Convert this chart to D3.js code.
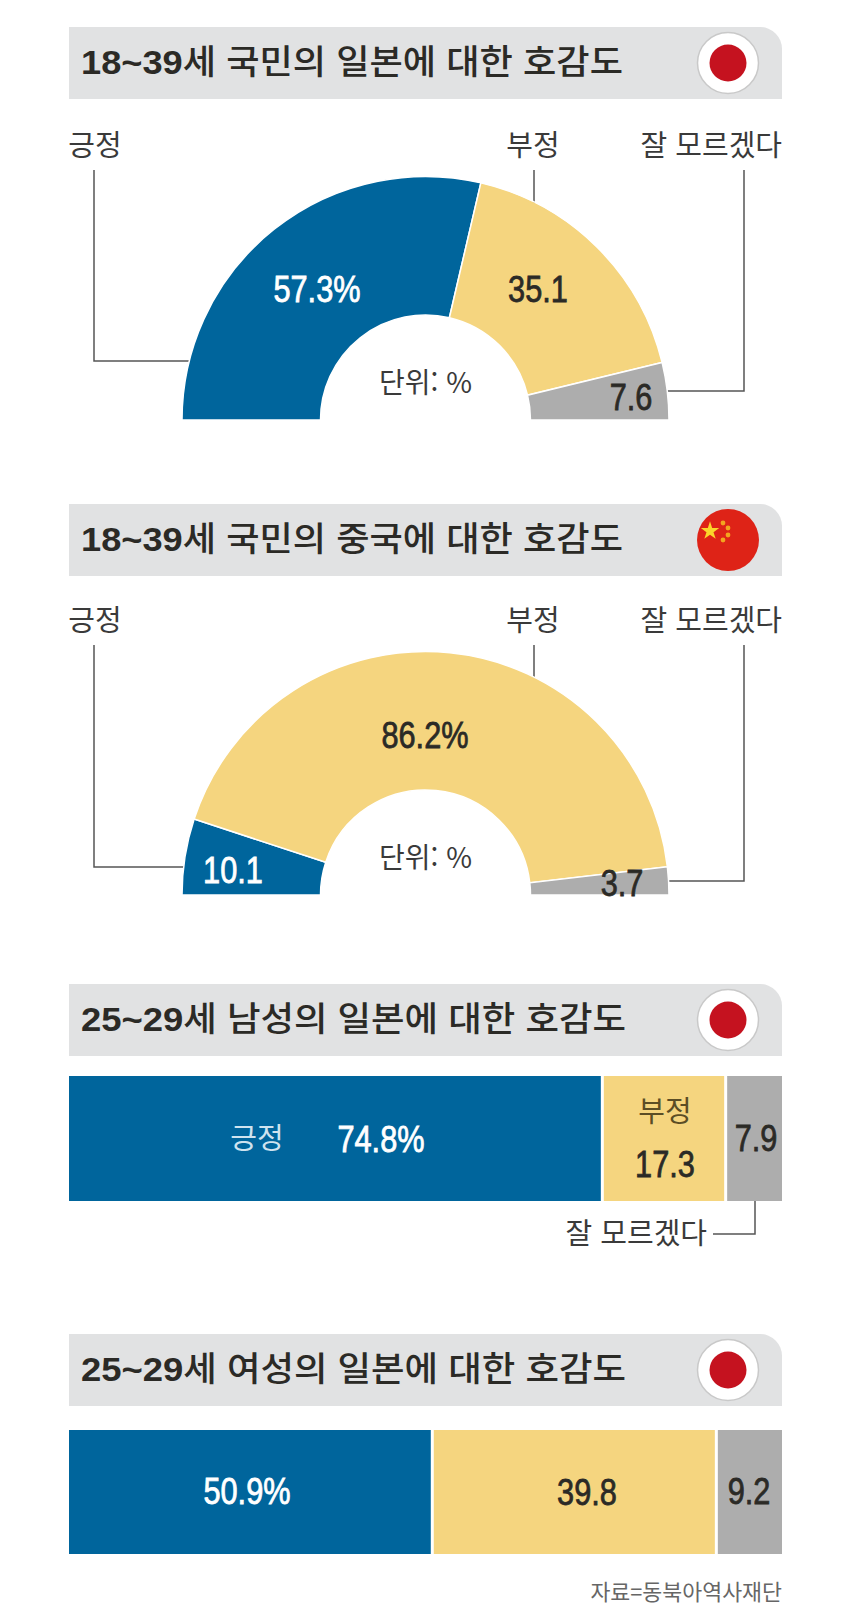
<!DOCTYPE html>
<html lang="ko">
<head>
<meta charset="utf-8">
<title>호감도</title>
<script src="https://cdn.jsdelivr.net/npm/d3@7"></script>
<style>
html, body { margin: 0; padding: 0; background: #fff; }
svg { display: block; }
text { font-family: "Noto Sans CJK KR", "Noto Sans", sans-serif; }
.num { font-family: "Liberation Sans", sans-serif; }
</style>
</head>
<body>
<script>
// data
var categories = ["긍정", "부정", "잘 모르겠다"];
var japanAll = [57.3, 35.1, 7.6];
var chinaAll = [10.1, 86.2, 3.7];
var japanMen = [74.8, 17.3, 7.9];
var japanWomen = [50.9, 39.8, 9.2];
var titleAges = ["18~39", "18~39", "25~29", "25~29"];
var titleRests = [
	"세 국민의 일본에 대한 호감도",
	"세 국민의 중국에 대한 호감도",
	"세 남성의 일본에 대한 호감도",
	"세 여성의 일본에 대한 호감도"
];
var japanLabels = ["57.3%", "35.1", "7.6"];
var chinaLabels = ["10.1", "86.2%", "3.7"];
var menLabels = ["74.8%", "17.3", "7.9"];
var womenLabels = ["50.9%", "39.8", "9.2"];
var unitLabel = "단위: %";
var sourceLabel = "자료=동북아역사재단";

var w = 850, h = 1614;
var colors = d3.scaleOrdinal().domain(categories).range(["#00659c", "#f5d57f", "#adadad"]);
var inkColors = ["#fff", "#2b2a26", "#2b2a26"];
var lineColor = "#555";
var left = 69, right = 782;

var svg = d3.select("body").append("svg").attr("width", w).attr("height", h);

function put(x, y, str, size, opts) {
	opts = opts || {};
	return svg.append("text")
		.attr("x", x).attr("y", y)
		.attr("dy", "0.36em")
		.attr("text-anchor", opts.anchor || "middle")
		.attr("font-size", size)
		.attr("font-weight", opts.weight || 400)
		.attr("fill", opts.fill || "#3a3a3a")
		.text(str);
}

// the numbers are a condensed face in the original, squeeze Liberation to fit
function putNum(x, y, str, fill) {
	var t = put(x, y, str, 37, {fill: fill}).attr("class", "num")
		.attr("stroke", fill).attr("stroke-width", 0.8);
	t.attr("textLength", t.node().getComputedTextLength() * 0.83)
		.attr("lengthAdjust", "spacingAndGlyphs");
	return t;
}

function flagJapan(cx, cy) {
	svg.append("circle").attr("cx", cx).attr("cy", cy).attr("r", 30.5)
		.attr("fill", "#fff").attr("stroke", "#c9c9c9").attr("stroke-width", 1.5);
	svg.append("circle").attr("cx", cx).attr("cy", cy).attr("r", 18.5).attr("fill", "#c5121f");
}

function flagChina(cx, cy) {
	svg.append("circle").attr("cx", cx).attr("cy", cy).attr("r", 31).attr("fill", "#de2317");
	var star = d3.symbol().type(d3.symbolStar).size(105);
	svg.append("path").attr("d", star()).attr("fill", "#fbd52b")
		.attr("transform", "translate(" + (cx - 18) + "," + (cy - 9) + ")");
	[[-5, -17], [0, -12], [0, -5], [-5, 0]].forEach(function(p) {
		svg.append("circle").attr("cx", cx + p[0]).attr("cy", cy + p[1]).attr("r", 2.4).attr("fill", "#f3a41f");
	});
}

function header(top, idx, flag, titleLen) {
	var bottom = top + 72, r = 22;
	svg.append("path")
		.attr("d", "M" + left + "," + top + "H" + (right - r) +
			"A" + r + "," + r + " 0 0 1 " + right + "," + (top + r) +
			"V" + bottom + "H" + left + "Z")
		.attr("fill", "#e1e2e3");
	var t = put(81, top + 35, "", 34, {anchor: "start", weight: 500, fill: "#2b2a26"})
		.attr("textLength", titleLen).attr("lengthAdjust", "spacingAndGlyphs");
	t.append("tspan").attr("class", "num").attr("font-weight", 700).text(titleAges[idx]);
	t.append("tspan").text(titleRests[idx]);
	flag(728, top + 36);
}

function halfDonut(cfg) {
	var cx = 425.5, baseY = cfg.baseY, labelY = baseY - 274, lineTop = baseY - 250;

	// leader lines sit behind the arcs
	var line = d3.line();
	[
		[[94, lineTop], [94, cfg.leadY[0]], [200, cfg.leadY[0]]],
		[[534, lineTop], [534, lineTop + 40]],
		[[744, lineTop], [744, cfg.leadY[1]], [640, cfg.leadY[1]]]
	].forEach(function(pts) {
		svg.append("path").attr("d", line(pts))
			.attr("fill", "none").attr("stroke", lineColor).attr("stroke-width", 1.5);
	});

	var pie = d3.pie().sort(null).startAngle(-Math.PI / 2).endAngle(Math.PI / 2);
	var arc = d3.arc().innerRadius(105).outerRadius(243.5);
	svg.append("g")
		.attr("transform", "translate(" + cx + "," + baseY + ")")
		.selectAll("path")
		.data(pie(cfg.values))
		.enter()
		.append("path")
		.attr("d", arc)
		.attr("fill", function(d, i) { return colors(categories[i]); })
		.attr("stroke", "#fff")
		.attr("stroke-width", 1.5);

	put(95, labelY, categories[0], 29);
	put(533, labelY, categories[1], 29);
	put(782, labelY, categories[2], 29, {anchor: "end"});
	put(cx, baseY - 37, unitLabel, 28);

	cfg.labels.forEach(function(s, i) {
		var pos = cfg.labelPos[i];
		putNum(pos[0], pos[1], s, inkColors[i]);
	});
}

function stackedBar(cfg) {
	var total = d3.sum(cfg.values);
	var x = d3.scaleLinear().domain([0, total]).range([left, right]);
	var offsets = d3.cumsum(cfg.values);
	svg.append("g").selectAll("rect")
		.data(cfg.values)
		.enter()
		.append("rect")
		.attr("x", function(d, i) { return x(offsets[i] - d) + (i ? 1.5 : 0); })
		.attr("y", cfg.top)
		.attr("width", function(d, i) { return x(offsets[i]) - x(offsets[i] - d) - (i ? 1.5 : 0) - (i < 2 ? 1.5 : 0); })
		.attr("height", cfg.height)
		.attr("fill", function(d, i) { return colors(categories[i]); });

	cfg.labels.forEach(function(s, i) {
		var pos = cfg.labelPos[i];
		putNum(pos[0], pos[1], s, inkColors[i]);
	});
}

header(27, 0, flagJapan, 542);
halfDonut({
	baseY: 420, values: japanAll, labels: japanLabels,
	leadY: [361, 391],
	labelPos: [[317, 289], [538, 289], [631, 397]]
});

header(504, 1, flagChina, 542);
halfDonut({
	baseY: 895, values: chinaAll, labels: chinaLabels,
	leadY: [867, 881],
	labelPos: [[233, 870], [425, 735], [622, 883]]
});

header(984, 2, flagJapan, 545);
stackedBar({
	top: 1076, height: 125, values: japanMen, labels: menLabels,
	labelPos: [[381, 1139], [665, 1164], [756, 1138]]
});
put(257, 1139, categories[0], 29, {fill: "#cfe3ef"});
put(665, 1112, categories[1], 29, {fill: "#5b4d25"});
put(707, 1234, categories[2], 29, {anchor: "end"});
svg.append("path")
	.attr("d", d3.line()([[713, 1234], [755, 1234], [755, 1201]]))
	.attr("fill", "none").attr("stroke", lineColor).attr("stroke-width", 1.5);

header(1334, 3, flagJapan, 545);
stackedBar({
	top: 1430, height: 124, values: japanWomen, labels: womenLabels,
	labelPos: [[247, 1491], [587, 1492], [749, 1491]]
});
put(782, 1592, sourceLabel, 21.7, {anchor: "end", fill: "#666"});
</script>
</body>
</html>
